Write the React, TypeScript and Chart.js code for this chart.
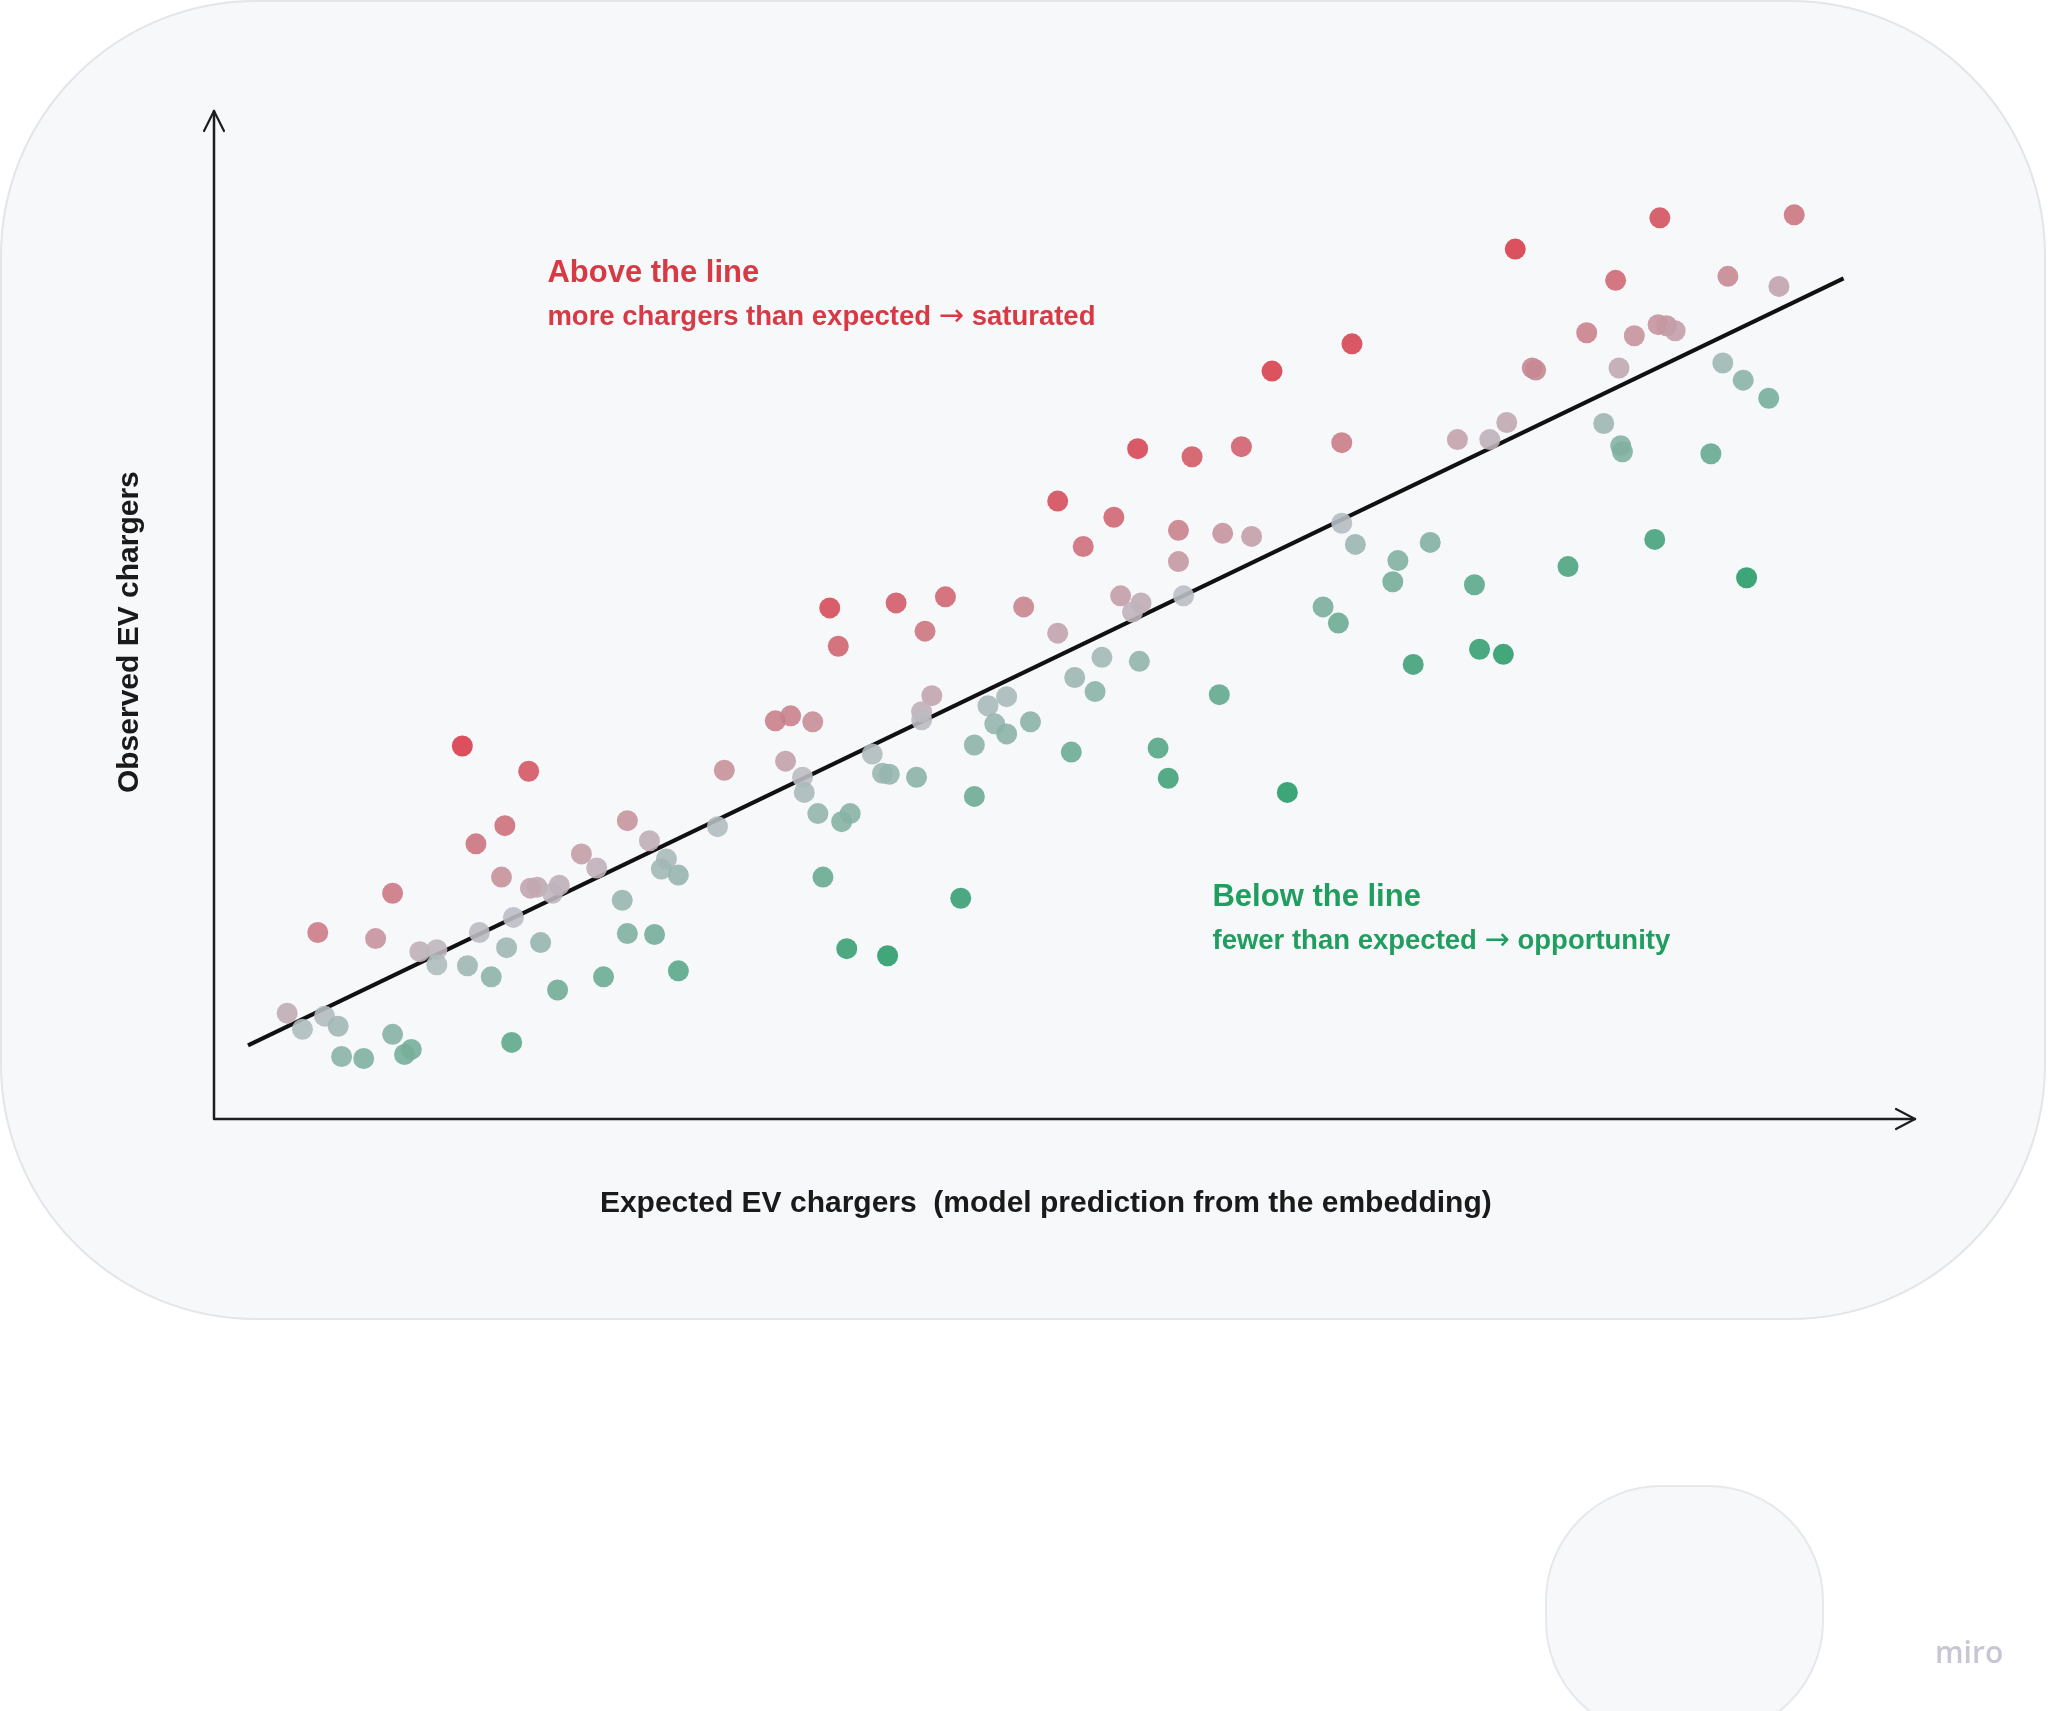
import React, { useEffect, useRef } from "react";
import { Chart, registerables } from "chart.js";

Chart.register(...registerables);

// Expected EV chargers (model prediction) – x values
const EXPECTED: number[] = [
  14.6, 18.5, 33.0, 30.0, 33.6, 17.1, 15.4, 24.3, 29.6, 25.6,
  21.6, 22.5, 26.6, 26.3, 27.3, 16.9, 18.6, 19.0, 20.3, 19.9,
  10.5, 6.1, 9.5, 24.0, 17.6, 15.6, 12.1, 13.1, 13.1, 14.9,
  17.2, 19.2, 24.3, 25.9, 16.3, 20.2, 22.9, 27.3, 4.3, 6.5,
  5.2, 7.3, 10.5, 11.6, 11.2, 7.5, 8.8, 17.5, 36.7, 33.9,
  35.2, 34.6, 34.7, 35.5, 36.9, 37.4, 35.8, 37.2, 39.6, 43.9,
  38.7, 39.3, 39.7, 41.3, 42.2, 41.6, 41.6, 44.7, 44.7, 45.5,
  46.6, 45.9, 46.6, 48.0, 50.6, 52.2, 54.4, 51.8, 50.4, 59.1,
  55.5, 56.1, 63.1, 36.2, 40.1, 43.0, 41.8, 47.6, 49.6, 49.6,
  51.1, 52.9, 54.3, 57.5, 60.4, 62.2, 56.7, 59.3, 61.0, 56.7,
  53.3, 54.5, 54.0, 57.0, 66.9, 66.3, 73.1, 75.0, 76.0, 76.5,
  77.5, 77.7, 85.0, 92.9, 82.4, 80.7, 83.5, 84.9, 85.4, 85.9,
  89.0, 92.0, 82.6, 88.7, 89.9, 91.4, 81.7, 82.7, 82.8, 88.0,
  66.3, 67.1, 71.5, 69.6, 69.3, 74.1, 65.2, 66.1, 79.6, 84.7,
  90.1, 70.5, 74.4, 75.8,
];

// Observed EV chargers – y values
const OBSERVED: number[] = [
  37.0, 34.5, 39.5, 34.6, 35.5, 29.1, 27.3, 29.6, 29.0, 27.6,
  26.3, 24.9, 25.8, 24.8, 24.2, 24.0, 22.9, 23.0, 23.2, 22.4,
  22.4, 18.5, 17.9, 21.7, 20.0, 18.5, 16.6, 16.8, 15.3, 15.2,
  17.0, 17.5, 18.4, 18.3, 14.1, 12.8, 14.1, 14.7, 10.5, 10.2,
  8.9, 9.2, 8.4, 6.9, 6.4, 6.2, 6.0, 7.6, 46.9, 40.0,
  39.4, 33.9, 32.4, 30.3, 29.5, 30.3, 24.0, 16.9, 16.2, 21.9,
  36.2, 34.3, 34.2, 33.9, 42.0, 40.4, 39.6, 37.1, 32.0, 41.0,
  41.9, 39.2, 38.2, 39.4, 43.8, 45.8, 45.4, 42.4, 36.4, 42.1,
  36.8, 33.8, 32.4, 50.7, 51.2, 51.8, 48.4, 50.8, 48.2, 61.3,
  56.8, 59.7, 66.5, 65.7, 66.7, 74.2, 58.4, 58.1, 57.8, 55.3,
  51.9, 51.2, 50.3, 51.9, 76.9, 67.1, 67.4, 67.4, 69.1, 86.3,
  74.5, 74.3, 89.4, 89.7, 83.2, 78.0, 77.7, 78.8, 78.7, 78.2,
  83.6, 82.6, 74.5, 75.0, 73.3, 71.5, 69.0, 66.8, 66.2, 66.0,
  59.1, 57.0, 57.2, 55.4, 53.3, 53.0, 50.8, 49.2, 54.8, 57.5,
  53.7, 45.1, 46.6, 46.1,
];

// Fitted line endpoints
const FIT_X: number[] = [2.0, 95.8];
const FIT_Y: number[] = [7.3, 83.4];

const X_TITLE = "Expected EV chargers  (model prediction from the embedding)";
const Y_TITLE = "Observed EV chargers";
const ABOVE_TITLE = "Above the line";
const ABOVE_SUB = "more chargers than expected \u2192 saturated";
const BELOW_TITLE = "Below the line";
const BELOW_SUB = "fewer than expected \u2192 opportunity";
const BRAND = "miro";

const RED = [216, 60, 74];
const MID = [188, 190, 198];
const GREEN = [40, 155, 105];
const RED_SCALE = 18.9;
const GREEN_SCALE = 22.8;

function residualColor(x: number, y: number): string {
  const b = (FIT_Y[1] - FIT_Y[0]) / (FIT_X[1] - FIT_X[0]);
  const yhat = FIT_Y[0] + b * (x - FIT_X[0]);
  const r = y - yhat;
  const scale = r >= 0 ? RED_SCALE : GREEN_SCALE;
  const t = Math.pow(Math.min(1, Math.abs(r) / scale), 0.75);
  const end = r >= 0 ? RED : GREEN;
  const c = MID.map((m, i) => Math.round(m + (end[i] - m) * t));
  return `rgba(${c[0]},${c[1]},${c[2]},0.9)`;
}

function roundRect(ctx: CanvasRenderingContext2D, x: number, y: number, w: number, h: number, r: number) {
  ctx.beginPath();
  ctx.moveTo(x + r, y);
  ctx.lineTo(x + w - r, y);
  ctx.arcTo(x + w, y, x + w, y + r, r);
  ctx.lineTo(x + w, y + h - r);
  ctx.arcTo(x + w, y + h, x + w - r, y + h, r);
  ctx.lineTo(x + r, y + h);
  ctx.arcTo(x, y + h, x, y + h - r, r);
  ctx.lineTo(x, y + r);
  ctx.arcTo(x, y, x + r, y, r);
  ctx.closePath();
}

const FONT = '"Liberation Sans", Arial, Helvetica, sans-serif';

// draws text whose arrow glyph uses a font with a long, centred arrow
function drawWithArrow(ctx: CanvasRenderingContext2D, text: string, x: number, y: number, size: number) {
  const parts = text.split("\u2192");
  let cx = x;
  parts.forEach((p, i) => {
    ctx.font = `bold ${size}px ${FONT}`;
    ctx.fillText(p, cx, y);
    cx += ctx.measureText(p).width;
    if (i < parts.length - 1) {
      ctx.font = `${size * 1.1}px "DejaVu Sans", sans-serif`;
      ctx.fillText("\u2192", cx, y);
      cx += ctx.measureText("\u2192").width;
    }
  });
}

const decorPlugin = {
  id: "decor",
  beforeDraw(chart: any) {
    const ctx: CanvasRenderingContext2D = chart.ctx;
    ctx.save();
    ctx.fillStyle = "#ffffff";
    ctx.fillRect(0, 0, chart.width, chart.height);
    roundRect(ctx, 1, 1, 2044, 1318, 255);
    ctx.fillStyle = "#f7f8fa";
    ctx.fill();
    ctx.strokeStyle = "#e3e5e8";
    ctx.lineWidth = 2;
    ctx.stroke();
    roundRect(ctx, 1546, 1486, 277, 250, 115);
    ctx.fillStyle = "#f7f8fa";
    ctx.fill();
    ctx.strokeStyle = "#e6e8eb";
    ctx.lineWidth = 2;
    ctx.stroke();
    ctx.fillStyle = "#c8c6d6";
    ctx.font = '600 30px "Open Sans", sans-serif';
    ctx.textAlign = "left";
    ctx.textBaseline = "alphabetic";
    ctx.fillText(BRAND, 1935, 1663);
    ctx.restore();
  },
  beforeDatasetsDraw(chart: any) {
    const ctx: CanvasRenderingContext2D = chart.ctx;
    const { left, right, top, bottom } = chart.chartArea;
    const xs = chart.scales.x;
    const ys = chart.scales.y;
    ctx.save();
    ctx.strokeStyle = "#1e1e1e";
    ctx.lineWidth = 2.5;
    ctx.lineCap = "round";
    ctx.lineJoin = "round";
    ctx.beginPath();
    ctx.moveTo(left, bottom);
    ctx.lineTo(left, top);
    ctx.moveTo(left, bottom);
    ctx.lineTo(right, bottom);
    ctx.stroke();
    ctx.lineWidth = 2.2;
    ctx.beginPath();
    ctx.moveTo(left - 10, top + 20);
    ctx.lineTo(left, top);
    ctx.lineTo(left + 10, top + 20);
    ctx.moveTo(right - 19, bottom - 10);
    ctx.lineTo(right, bottom);
    ctx.lineTo(right - 19, bottom + 10);
    ctx.stroke();

    ctx.fillStyle = "#1a1a1a";
    ctx.font = `bold 30px ${FONT}`;
    ctx.textAlign = "center";
    ctx.textBaseline = "alphabetic";
    ctx.fillText(X_TITLE, xs.getPixelForValue(48.9), bottom + 93);
    ctx.save();
    ctx.translate(left - 84, ys.getPixelForValue(48.3));
    ctx.rotate(-Math.PI / 2);
    ctx.textBaseline = "middle";
    ctx.fillText(Y_TITLE, 0, 0);
    ctx.restore();

    ctx.textAlign = "left";
    ctx.textBaseline = "alphabetic";
    ctx.fillStyle = "#d73a45";
    ctx.font = `bold 31px ${FONT}`;
    ctx.fillText(ABOVE_TITLE, xs.getPixelForValue(19.6), ys.getPixelForValue(83.0));
    drawWithArrow(ctx, ABOVE_SUB, xs.getPixelForValue(19.6), ys.getPixelForValue(78.8), 27.5);
    ctx.fillStyle = "#1f9e5f";
    ctx.font = `bold 31px ${FONT}`;
    ctx.fillText(BELOW_TITLE, xs.getPixelForValue(58.7), ys.getPixelForValue(21.1));
    drawWithArrow(ctx, BELOW_SUB, xs.getPixelForValue(58.7), ys.getPixelForValue(16.9), 27.5);
    ctx.restore();
  },
};

export default function App() {
  const canvasRef = useRef<HTMLCanvasElement | null>(null);

  useEffect(() => {
    document.body.style.margin = "0";
    document.body.style.overflow = "hidden";
    const canvas = canvasRef.current;
    if (!canvas) return;
    const points = EXPECTED.map((x, i) => ({ x, y: OBSERVED[i] }));
    const colors = EXPECTED.map((x, i) => residualColor(x, OBSERVED[i]));
    const chart = new Chart(canvas, {
      type: "scatter",
      data: {
        datasets: [
          {
            label: "Neighbourhoods",
            data: points,
            backgroundColor: colors,
            borderWidth: 0,
            pointRadius: 10.5,
            pointHoverRadius: 10.5,
            order: 1,
          } as any,
          {
            label: "Fit",
            data: FIT_X.map((x, i) => ({ x, y: FIT_Y[i] })),
            showLine: true,
            borderColor: "#111111",
            borderWidth: 4,
            pointRadius: 0,
            fill: false,
            order: 2,
          } as any,
        ],
      },
      options: {
        responsive: false,
        maintainAspectRatio: false,
        animation: false,
        devicePixelRatio: 1,
        events: [],
        layout: { padding: { left: 214, right: 133, top: 111, bottom: 592 } },
        scales: {
          x: { type: "linear", min: 0, max: 100, display: false },
          y: { type: "linear", min: 0, max: 100, display: false },
        },
        plugins: {
          legend: { display: false },
          tooltip: { enabled: false },
        },
      },
      plugins: [decorPlugin],
    });
    return () => chart.destroy();
  }, []);

  return (
    <canvas
      ref={canvasRef}
      width={2048}
      height={1711}
      style={{ position: "absolute", left: 0, top: 0, display: "block", width: 2048, height: 1711 }}
    />
  );
}
